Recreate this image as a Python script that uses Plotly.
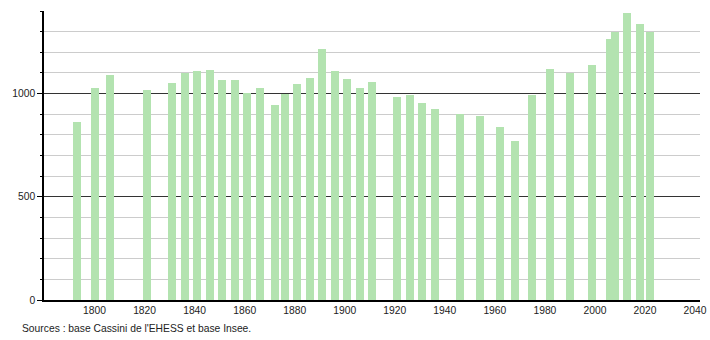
import plotly.graph_objects as go

years = [1793, 1800, 1806, 1821, 1831, 1836, 1841, 1846, 1851, 1856,
         1861, 1866, 1872, 1876, 1881, 1886, 1891, 1896, 1901, 1906,
         1911, 1921, 1926, 1931, 1936, 1946, 1954, 1962, 1968, 1975,
         1982, 1990, 1999, 2006, 2008, 2013, 2018, 2022]
population = [861, 1027, 1088, 1016, 1050, 1098, 1108, 1113, 1064, 1064,
              1001, 1026, 943, 997, 1045, 1074, 1214, 1108, 1069, 1026,
              1055, 982, 992, 953, 924, 900, 890, 837, 769, 992,
              1118, 1098, 1137, 1263, 1297, 1390, 1335, 1297]
x_ticks = [1800, 1820, 1840, 1860, 1880, 1900, 1920, 1940, 1960, 1980, 2000, 2020, 2040]
y_ticks = [0, 500, 1000]
source_text = "Sources : base Cassini de l'EHESS et base Insee."

FONT = "Liberation Sans, Arial, Helvetica, sans-serif"
FS = 10.3

fig = go.Figure()
fig.add_trace(go.Bar(
    x=years, y=population, width=3.2,
    marker=dict(color="#b3e3b0", line=dict(width=0)),
    hoverinfo="x+y",
))

fig.update_layout(
    width=710, height=340,
    margin=dict(l=44, r=10, t=11, b=40, autoexpand=False),
    paper_bgcolor="white", plot_bgcolor="white",
    showlegend=False,
    font=dict(family=FONT, size=FS, color="#222"),
    bargap=0,
    annotations=[dict(
        text=source_text, xref="paper", yref="paper",
        x=(20 - 44) / 656, y=(300 - 328) / 289,
        xanchor="left", yanchor="middle", showarrow=False,
        font=dict(family=FONT, size=FS, color="#222"),
    )],
)

fig.update_xaxes(
    range=[1779.8, 2042], tickvals=x_ticks, ticktext=[str(v) for v in x_ticks],
    showgrid=False, zeroline=False, automargin=False,
    showline=True, linecolor="black", linewidth=1.5,
    ticks="",
    tickfont=dict(family=FONT, size=FS, color="#222"),
)
fig.update_yaxes(
    range=[0, 1400], tickvals=y_ticks, ticktext=[str(v) for v in y_ticks],
    showgrid=True, gridcolor="#333", gridwidth=1,
    zeroline=False, automargin=False,
    showline=True, linecolor="black", linewidth=1.5,
    ticks="outside", ticklen=5, tickcolor="black", tickwidth=1,
    tickfont=dict(family=FONT, size=FS, color="#222"),
    minor=dict(dtick=100, tick0=0, showgrid=True, gridcolor="#cccccc", gridwidth=1,
               ticks="outside", ticklen=2, tickcolor="black"),
)

fig.write_html("out.html")
